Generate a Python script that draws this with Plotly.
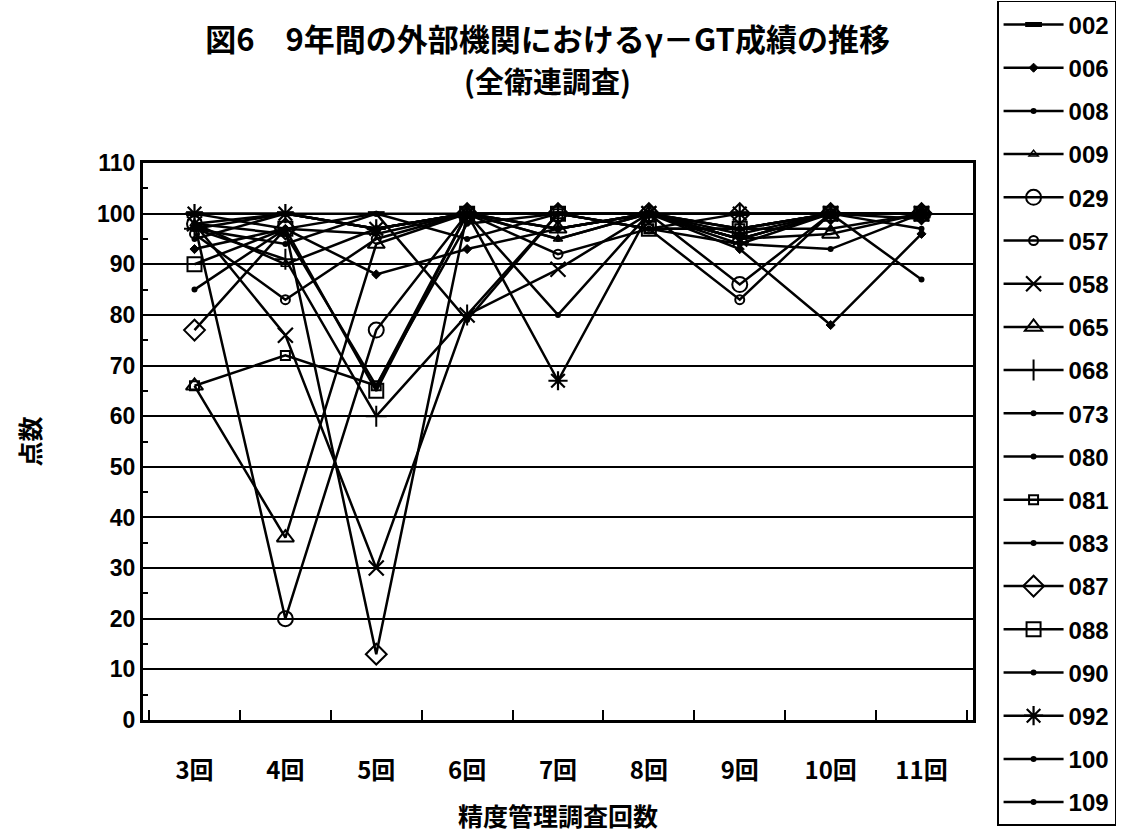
import plotly.graph_objects as go

# Survey rounds (x categories)
rounds = ["3回", "4回", "5回", "6回", "7回", "8回", "9回", "10回", "11回"]

# Scores per institution
s002 = [100, 100, 100, 100, 100, 100, 100, 100, 100]
s006 = [93, 97, 88, 93, 97, 100, 93, 78, 96]
s008 = [97, 100, 97, 100, 95, 100, 95, 100, 100]
s009 = [98, 90, 97, 100, 95, 100, 97, 97, 100]
s029 = [98, 20, 77, 100, 100, 100, 86, 100, 100]
s057 = [96, 83, 95, 100, 92, 97, 83, 100, 100]
s058 = [98, 76, 30, 80, 89, 100, 95, 100, 100]
s065 = [66, 36, 94, 100, 97, 100, 95, 96, 100]
s068 = [97, 91, 60, 80, 100, 100, 97, 100, 100]
s073 = [98, 96, 66, 98, 100, 97, 94, 93, 100]
s080 = [95, 100, 97, 100, 80, 100, 97, 100, 100]
s081 = [66, 72, 66, 100, 100, 97, 97, 100, 100]
s083 = [85, 97, 100, 95, 100, 100, 95, 100, 87]
s087 = [77, 97, 13, 100, 100, 100, 100, 100, 100]
s088 = [90, 97, 65, 100, 100, 97, 97, 100, 100]
s090 = [100, 97, 96, 100, 97, 100, 94, 100, 100]
s092 = [100, 100, 97, 100, 67, 100, 100, 100, 100]
s100 = [97, 94, 100, 79, 100, 97, 100, 100, 97]
s109 = [98, 100, 97, 100, 97, 100, 96, 100, 99]

names = ["002", "006", "008", "009", "029", "057", "058", "065", "068", "073",
         "080", "081", "083", "087", "088", "090", "092", "100", "109"]
values = [s002, s006, s008, s009, s029, s057, s058, s065, s068, s073,
          s080, s081, s083, s087, s088, s090, s092, s100, s109]

# Marker style per institution: (symbol, size, line width)
styles = {
    "002": ("line-ew", 12, 5),
    "006": ("diamond", 7, 1),
    "008": ("circle", 6, 0),
    "009": ("triangle-up-open", 8, 1.5),
    "029": ("circle-open", 15, 2),
    "057": ("circle-open", 9, 2),
    "058": ("x-thin-open", 15, 2.2),
    "065": ("triangle-up-open", 15, 2),
    "068": ("cross-thin-open", 15, 2),
    "073": ("circle", 6, 0),
    "080": ("circle", 6, 0),
    "081": ("square-open", 9, 2),
    "083": ("circle", 6, 0),
    "087": ("diamond-open", 16, 2),
    "088": ("square-open", 14, 2),
    "090": ("circle", 6, 0),
    "092": ("asterisk-open", 16, 2.2),
    "100": ("circle", 6, 0),
    "109": ("circle", 6, 0),
}

fig = go.Figure()
for name, vals in zip(names, values):
    sym, size, lw = styles[name]
    fig.add_trace(go.Scatter(
        x=rounds, y=vals, name="<b>" + name + "</b>", mode="lines+markers",
        legendgroup=name,
        line=dict(color="black", width=2.5),
        marker=dict(symbol=sym, size=size, color="black",
                    line=dict(color="black", width=lw)),
    ))

font_jp = "Noto Sans CJK JP, Liberation Sans, sans-serif"
font_num = "Liberation Sans, Arial, sans-serif"

fig.update_layout(
    width=1136, height=836,
    margin=dict(l=143, r=163, t=163, b=116, autoexpand=False),
    paper_bgcolor="white", plot_bgcolor="white",
    title=dict(
        text="<b>図6　9年間の外部機関におけるγ－GT成績の推移</b>",
        x=0.482, xref="container", xanchor="center",
        y=1 - 40 / 836, yref="container", yanchor="middle",
        font=dict(family=font_jp, size=31, color="black"),
    ),
    annotations=[dict(
        text="<b>(全衛連調査)</b>", xref="paper", yref="paper",
        x=(547 - 143) / 830, y=(720 - 80) / 557,
        xanchor="center", yanchor="middle", showarrow=False,
        font=dict(family=font_jp, size=29, color="black"),
    )],
    showlegend=True,
    legend=dict(
        x=1.029, xanchor="left", y=1.291, yanchor="top",
        bordercolor="black", borderwidth=1.5, bgcolor="white",
        font=dict(family=font_num, size=24, color="black"),
        tracegroupgap=9, itemwidth=60, maxheight=1200,
    ),
    xaxis=dict(
        type="category", tickson="boundaries", ticks="inside", ticklen=10,
        tickwidth=2, tickcolor="black",
        showline=True, linecolor="black", linewidth=3, mirror=True,
        showgrid=False, zeroline=False, automargin=False,
        tickfont=dict(family=font_jp, size=24, color="black"),
        tickprefix="<b>", ticksuffix="</b>", ticklabelstandoff=27,
        title=dict(text="<b>精度管理調査回数</b>",
                   font=dict(family=font_jp, size=25, color="black"), standoff=24),
    ),
    yaxis=dict(
        range=[0, 110], dtick=10, ticks="", showline=True, linecolor="black",
        linewidth=3, mirror=True, showgrid=True, gridcolor="black", gridwidth=1.5,
        zeroline=False, automargin=False,
        minor=dict(dtick=5, ticks="inside", ticklen=5, tickcolor="black",
                   tickwidth=1.5, showgrid=False),
        tickfont=dict(family=font_num, size=23, color="black"),
        tickprefix="<b>", ticksuffix="</b>",
        title=dict(text="<b>点数</b>",
                   font=dict(family=font_jp, size=25, color="black"), standoff=50),
    ),
)

fig.write_html("out.html")
